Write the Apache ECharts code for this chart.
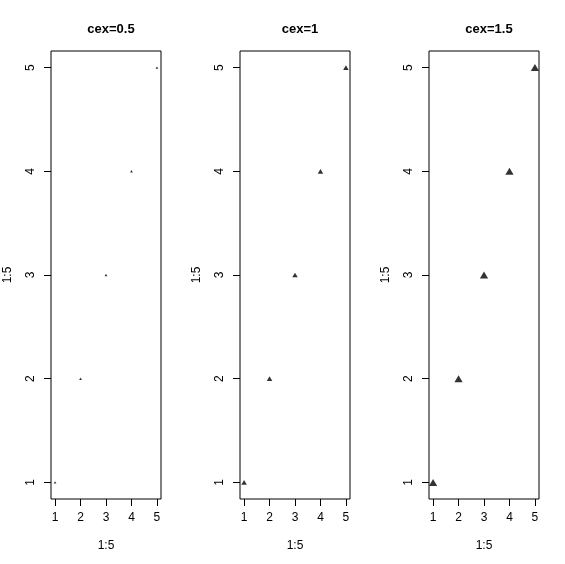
<!DOCTYPE html>
<html>
<head>
<meta charset="utf-8">
<script src="https://cdn.jsdelivr.net/npm/echarts@6/dist/echarts.min.js"></script>
<style>html,body{margin:0;padding:0;background:#fff;}#c{width:565px;height:564px;}</style>
</head>
<body>
<div id="c"></div>
<script>
var xValues = [1, 2, 3, 4, 5];
var yValues = [1, 2, 3, 4, 5];
var cexValues = [0.5, 1, 1.5];
var panelTitles = ['cex=0.5', 'cex=1', 'cex=1.5'];
var tickValues = [1, 2, 3, 4, 5];
var axisTitleX = '1:5';
var axisTitleY = '1:5';

var panelLeft = [51, 240, 429];
var panelTop = 51, panelW = 110, panelH = 448;
var font = 'Liberation Sans, Arial, sans-serif';

var chart = echarts.init(document.getElementById('c'), null, {renderer: 'canvas'});
var grids = [], xAxes = [], yAxes = [], series = [], titles = [];
for (var i = 0; i < 3; i++) {
  grids.push({left: panelLeft[i], top: panelTop, width: panelW, height: panelH,
    show: true, borderColor: '#000', borderWidth: 1, backgroundColor: 'transparent'});
  var axCommon = {
    type: 'value', min: 0.84, max: 5.16,
    splitLine: {show: false},
    axisLine: {show: false},
    axisTick: {show: true, length: 7, inside: false, customValues: tickValues, lineStyle: {color: '#000', width: 1}},
    axisLabel: {customValues: tickValues, color: '#000', fontFamily: font, fontSize: 12, margin: 13},
    nameLocation: 'middle',
    nameTextStyle: {color: '#000', fontFamily: font, fontSize: 12}
  };
  xAxes.push(Object.assign({}, axCommon, {gridIndex: i, name: axisTitleX, nameGap: 41}));
  var ya = Object.assign({}, axCommon, {gridIndex: i, name: axisTitleY, nameGap: 37});
  ya.axisLabel = Object.assign({}, axCommon.axisLabel, {rotate: 90, margin: 14});
  yAxes.push(ya);
  var c = cexValues[i];
  series.push({
    type: 'scatter', xAxisIndex: i, yAxisIndex: i,
    data: xValues.map(function (x, k) { return [x, yValues[k]]; }),
    symbol: 'triangle',
    symbolSize: [5.5 * c, 4.7 * c],
    itemStyle: {color: '#000'},
    emphasis: {disabled: true},
    silent: true
  });
  titles.push({text: panelTitles[i], left: panelLeft[i] + panelW / 2, top: 18, textAlign: 'center',
    textStyle: {fontFamily: font, fontSize: 13, fontWeight: 'bold', color: '#000'}});
}
chart.setOption({
  animation: false,
  backgroundColor: '#fff',
  title: titles,
  grid: grids,
  xAxis: xAxes,
  yAxis: yAxes,
  series: series
});
</script>
</body>
</html>
